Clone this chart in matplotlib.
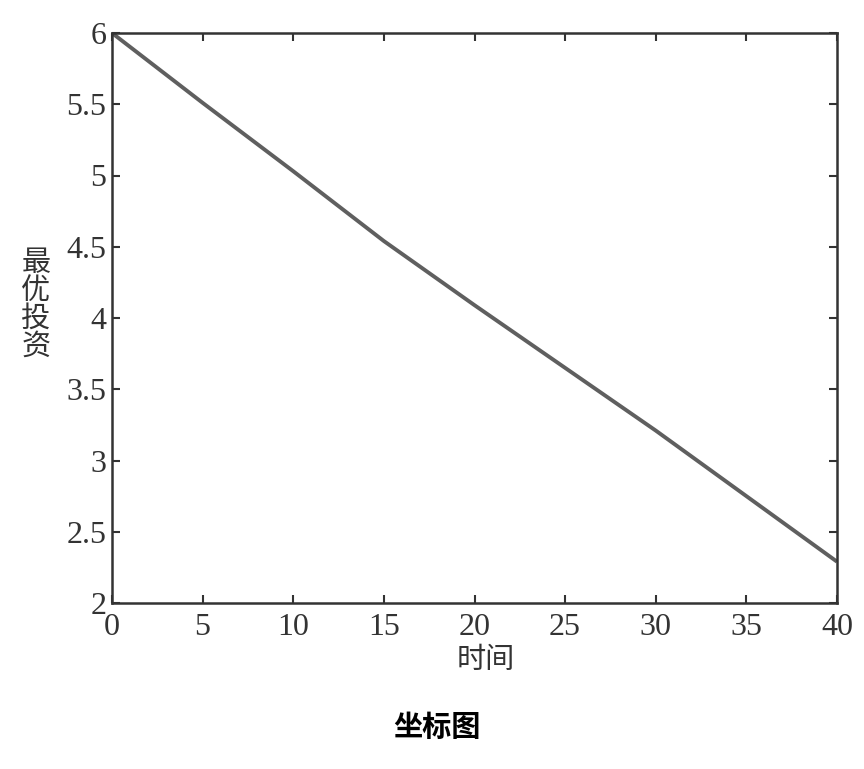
import matplotlib
matplotlib.use("Agg")
import matplotlib.pyplot as plt

# Data
time_vals = [0, 5, 10, 15, 20, 25, 30, 35, 40]
invest_vals = [6.0, 5.51, 5.03, 4.54, 4.09, 3.65, 3.21, 2.75, 2.29]
x_ticks = [0, 5, 10, 15, 20, 25, 30, 35, 40]
y_ticks = [2, 2.5, 3, 3.5, 4, 4.5, 5, 5.5, 6]
y_tick_labels = ["2", "2.5", "3", "3.5", "4", "4.5", "5", "5.5", "6"]
x_label = "时间"
y_label = "最优投资"
title = "坐标图"

W, H = 864, 769
fig = plt.figure(figsize=(W / 100, H / 100), dpi=100)
ax = fig.add_axes([112 / W, 1 - 603 / H, 725 / W, 570 / H])

ax.plot(time_vals, invest_vals, color="#5f5f5f", linewidth=2.8, solid_capstyle="butt")
ax.set_xlim(0, 40)
ax.set_ylim(2, 6)
ax.set_xticks(x_ticks)
ax.set_yticks(y_ticks)
ax.set_yticklabels(y_tick_labels)

for s in ax.spines.values():
    s.set_color("#333333")
    s.set_linewidth(1.8)
ax.tick_params(direction="in", length=6, width=1.5, color="#333333",
               top=True, right=True, labelcolor="#333333", labelsize=23)
for lab in ax.get_xticklabels() + ax.get_yticklabels():
    lab.set_fontfamily("Liberation Serif")
ax.tick_params(axis="x", pad=7)
ax.tick_params(axis="y", pad=4)

fig.text(486 / W, 1 - 660 / H, x_label, ha="center", va="center",
         fontsize=21, color="#333333", family=["Noto Sans CJK SC", "DejaVu Sans"])
fig.text(36 / W, 1 - 305 / H, "\n".join(y_label), ha="center", va="center",
         fontsize=21, color="#333333", linespacing=0.9,
         family=["Noto Sans CJK SC", "DejaVu Sans"])
fig.text(437 / W, 1 - 727 / H, title, ha="center", va="center",
         fontsize=21, fontweight="bold", color="black",
         family=["Noto Sans CJK SC", "DejaVu Sans"])

fig.savefig("out.png", dpi=100)
